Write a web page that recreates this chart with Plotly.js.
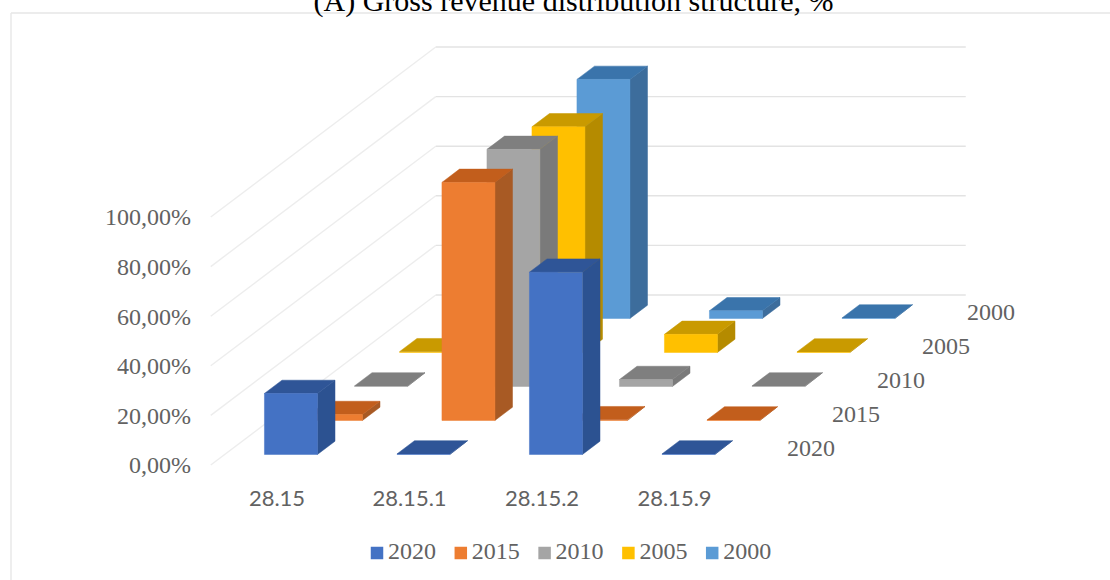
<!DOCTYPE html>
<html>
<head>
<meta charset="utf-8">
<script src="https://cdn.plot.ly/plotly-3.0.1.min.js"></script>
<style>html,body{margin:0;padding:0;background:#fff}#chart{width:1110px;height:580px}</style>
</head>
<body>
<div id="chart"></div>
<script>
// ---- data (percent) ----
const categories = ['28.15', '28.15.1', '28.15.2', '28.15.9'];
const years = ['2020', '2015', '2010', '2005', '2000'];
const v2020 = [24.6, 0.2, 73.5, 0.2];
const v2015 = [2.4, 96.0, 0.3, 0.2];
const v2010 = [0.2, 95.6, 2.8, 0.2];
const v2005 = [0.3, 91.0, 7.3, 0.2];
const v2000 = [0.1, 96.4, 3.1, 0.2];
const seriesValues = [v2020, v2015, v2010, v2005, v2000];
const valueTicks = [0, 20, 40, 60, 80, 100];
const valueTickLabels = ['0,00%', '20,00%', '40,00%', '60,00%', '80,00%', '100,00%'];

// ---- colours ----
const frontColors = ['#4472C4', '#ED7D31', '#A5A5A5', '#FFC000', '#5B9BD5'];
const sideColors  = ['#2C5291', '#A85A24', '#7A7A7A', '#B58B00', '#3D6D9C'];
const topColors   = ['#2F5597', '#C25E1C', '#7F7F7F', '#C99A00', '#3A74AB'];
const textColor = '#626262';
const backGridColor = '#E3E3E3';
const sideGridColor = '#EDEDED';

// ---- oblique projection, in axis units ----
const M_L = 194, PW = 916, PH = 580, X_AXIS_AT = 482;
const PX_PER_CAT = 132.5, PX_PER_PCT = 2.48;
const DEPTH_DX = 45 / PX_PER_CAT, DEPTH_DY = 34 / PX_PER_PCT;
const CAT_AT_LEFT = -0.6264, CAT_AT_RIGHT = CAT_AT_LEFT + PW / PX_PER_CAT;
const PCT_AT_BOTTOM = (465 - PH) / PX_PER_PCT, PCT_AT_TOP = 465 / PX_PER_PCT;
const px = (c, d) => c + d * DEPTH_DX;
const py = (v, d) => v + d * DEPTH_DY;

const HALF_W = 26.5 / PX_PER_CAT, D_FRONT = 0.31, D_BACK = 0.70;

function polygons(list) {
  const x = [], y = [];
  list.forEach(poly => {
    poly.forEach(p => { x.push(px(p[0], p[1])); y.push(py(p[2], p[1])); });
    x.push(px(poly[0][0], poly[0][1])); y.push(py(poly[0][2], poly[0][1]));
    x.push(null); y.push(null);
  });
  return {x, y};
}
function faceTrace(list, color) {
  const g = polygons(list);
  return {type: 'scatter', mode: 'lines', x: g.x, y: g.y, fill: 'toself', fillcolor: color,
          line: {width: 0.5, color: color}, hoverinfo: 'skip', showlegend: false};
}

const traces = [];

// grid lines on the side wall and back wall
valueTicks.forEach(v => {
  traces.push({type: 'scatter', mode: 'lines',
    x: [px(-0.5, 0), px(-0.5, 5)], y: [py(v, 0), py(v, 5)],
    line: {color: sideGridColor, width: 1.4}, hoverinfo: 'skip', showlegend: false});
  traces.push({type: 'scatter', mode: 'lines',
    x: [px(-0.5, 5), px(3.5, 5)], y: [py(v, 5), py(v, 5)],
    line: {color: backGridColor, width: 1.4}, hoverinfo: 'skip', showlegend: false});
});

// bars, back series first
for (let s = years.length - 1; s >= 0; s--) {
  const d0 = s + D_FRONT, d1 = s + D_BACK;
  const front = [], side = [], top = [];
  seriesValues[s].forEach((v, i) => {
    const l = i - HALF_W, r = i + HALF_W;
    front.push([[l, d0, 0], [r, d0, 0], [r, d0, v], [l, d0, v]]);
    side.push([[r, d0, 0], [r, d1, 0], [r, d1, v], [r, d0, v]]);
    top.push([[l, d0, v], [r, d0, v], [r, d1, v], [l, d1, v]]);
  });
  traces.push(faceTrace(side, sideColors[s]));
  traces.push(faceTrace(top, topColors[s]));
  traces.push(faceTrace(front, frontColors[s]));
}

// depth axis labels
traces.push({type: 'scatter', mode: 'text',
  x: years.map((_, s) => px(3.86, s + 0.5)),
  y: years.map((_, s) => py(-0.8, s + 0.5)),
  text: years, textposition: 'middle center',
  textfont: {family: 'Liberation Serif', size: 24, color: textColor},
  hoverinfo: 'skip', showlegend: false});

// key below the plot: a swatch and a label for each series, placed along a row
const LEGEND_PCT = (465 - 553) / PX_PER_PCT;
const LEGEND_SWATCH_CAT = (377 - 277) / PX_PER_CAT;
const LEGEND_TEXT_CAT = (412 - 277) / PX_PER_CAT;
const LEGEND_STEP_CAT = 83.8 / PX_PER_CAT;
years.forEach((name, s) => {
  traces.push({type: 'scatter', mode: 'markers', name: name,
    x: [LEGEND_SWATCH_CAT + s * LEGEND_STEP_CAT], y: [LEGEND_PCT],
    marker: {symbol: 'square', size: 12.5, color: frontColors[s]},
    hoverinfo: 'skip', showlegend: false});
});
traces.push({type: 'scatter', mode: 'text',
  x: years.map((_, s) => LEGEND_TEXT_CAT + s * LEGEND_STEP_CAT),
  y: years.map(() => LEGEND_PCT),
  text: years, textposition: 'middle center',
  textfont: {family: 'Liberation Serif', size: 24, color: textColor},
  hoverinfo: 'skip', showlegend: false});

const paperX = p => (p - M_L) / PW;
const paperY = p => (PH - p) / PH;
const frameLine = (x0, y0, x1, y1, c) => ({type: 'line', xref: 'paper', yref: 'paper',
  x0: paperX(x0), y0: paperY(y0), x1: paperX(x1), y1: paperY(y1),
  line: {color: c, width: 1.5}, layer: 'below'});

const layout = {
  width: 1110, height: 580,
  margin: {l: M_L, r: 0, t: 0, b: 0, pad: 0},
  paper_bgcolor: '#ffffff', plot_bgcolor: 'rgba(0,0,0,0)',
  font: {family: 'Liberation Serif', color: textColor},
  showlegend: false,
  title: {text: '(A) Gross revenue distribution structure, %',
    font: {family: 'Liberation Serif', size: 30, color: '#000000'},
    x: 573.5 / 1110, xanchor: 'center', xref: 'container',
    y: 0.981, yanchor: 'bottom', yref: 'container', pad: {t: 0, b: 0}},
  xaxis: {range: [CAT_AT_LEFT, CAT_AT_RIGHT], showgrid: false, zeroline: false, showline: false,
    anchor: 'free', position: paperY(X_AXIS_AT),
    tickmode: 'array', tickvals: categories.map((_, i) => i), ticktext: categories, ticks: '',
    ticklabelstandoff: 1,
    tickfont: {family: 'Lato', size: 22, color: textColor}},
  yaxis: {range: [PCT_AT_BOTTOM, PCT_AT_TOP], showgrid: false, zeroline: false, showline: false,
    tickmode: 'array', tickvals: valueTicks, ticktext: valueTickLabels, ticks: '',
    ticklabelstandoff: 2,
    tickfont: {family: 'Liberation Serif', size: 24, color: textColor}},
  shapes: [frameLine(11, 13, 1110, 13, '#E6E6E6'), frameLine(11, 13, 11, 580, '#E8E8E8')]
};

Plotly.newPlot('chart', traces, layout, {displayModeBar: false, staticPlot: true});
</script>
</body>
</html>
